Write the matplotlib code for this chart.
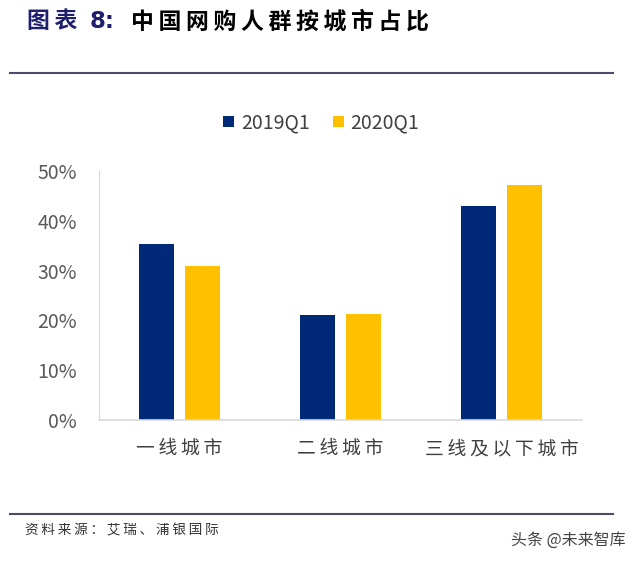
import matplotlib.pyplot as plt
import numpy as np

plt.rcParams['font.family'] = ['Noto Sans CJK SC', 'DejaVu Sans']

cities = ['一线城市', '二线城市', '三线及以下城市']
share_2019q1 = [35.3, 21.1, 42.9]
share_2020q1 = [31.0, 21.2, 47.2]
series_names = ['2019Q1', '2020Q1']
yticks = [0, 10, 20, 30, 40, 50]

navy = '#002A78'
gold = '#FFC000'


def spaced(s):
    # the original uses wide letter spacing for chinese text
    return '\u2009'.join(s)


fig = plt.figure(figsize=(6.4, 5.62), dpi=100)

# title and rules
ty = 1 - 22/562
fig.text(27/640, ty, spaced('图表'), color='#1F1F6E', fontsize=16.5, fontweight='bold', va='center')
fig.text(90/640, ty, '8:', color='#1F1F6E', fontsize=16.5, fontweight='bold', va='center',
         family=['DejaVu Sans'])
fig.text(131/640, ty, spaced('中国网购人群按城市占比'), color='black', fontsize=16.5,
         fontweight='bold', va='center')
fig.add_artist(plt.Line2D([10/640, 613/640], [1 - 73/562, 1 - 73/562], color='#4B4B6E', lw=1.5))
fig.add_artist(plt.Line2D([10/640, 613/640], [1 - 514/562, 1 - 514/562], color='#4B4B6E', lw=1.5))
fig.text(25/640, 1 - 530/562, spaced('资料来源：艾瑞、浦银国际'), color='#333333', fontsize=9.8,
         va='center')
fig.text(626/640, 1 - 540/562, '头条 @未来智库', color='#444444', fontsize=11.5, va='center',
         ha='right')

ax = fig.add_axes([99/640, 1 - 420/562, 483/640, 249/562])
x = np.arange(len(cities))
w = 0.22
off = 0.144
ax.bar(x - off, share_2019q1, w, color=navy, label=series_names[0])
ax.bar(x + off, share_2020q1, w, color=gold, label=series_names[1])

ax.set_xlim(-0.5, 2.5)
ax.set_ylim(0, 50)
ax.set_yticks(yticks)
ax.set_yticklabels([f'{v}%' for v in yticks], fontsize=14, color='#595959')
ax.set_xticks(x)
ax.set_xticklabels([spaced(c) for c in cities], fontsize=13.5, color='#404040')
ax.tick_params(axis='y', length=0, pad=16)
ax.tick_params(axis='x', length=0, pad=13)
for side in ['top', 'right']:
    ax.spines[side].set_visible(False)
ax.spines['left'].set_color('#D9D9D9')
ax.spines['bottom'].set_color('#D9D9D9')
ax.spines['bottom'].set_linewidth(1.2)

ax.legend(loc='center', bbox_to_anchor=(0.46, 1 + (171 - 123)/249), ncol=2, frameon=False,
          fontsize=14, handlelength=0.55, handleheight=0.55, handletextpad=0.35,
          columnspacing=1.2, labelcolor='#404040')

fig.savefig('out.png', dpi=100)
